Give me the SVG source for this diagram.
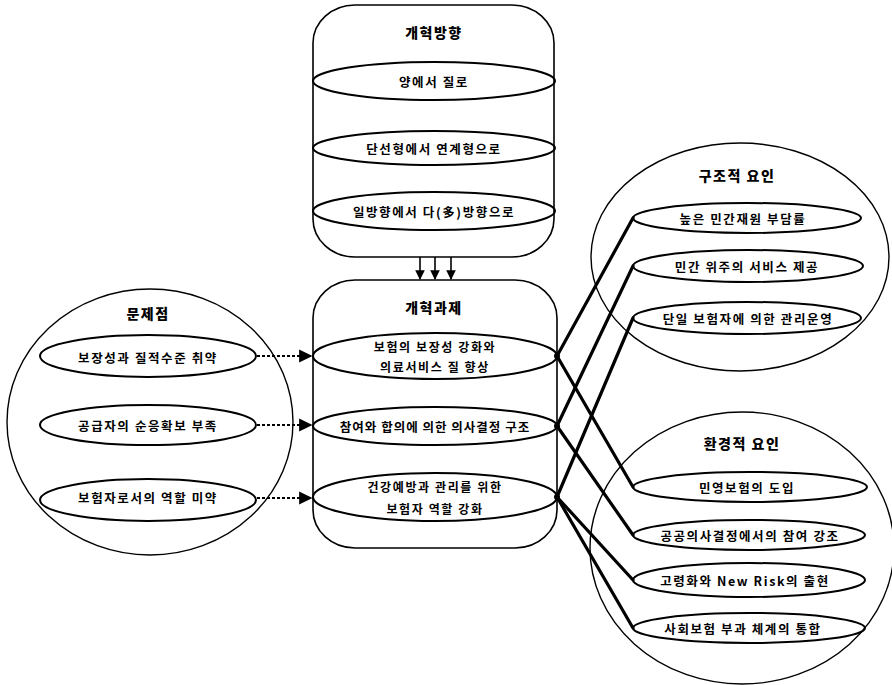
<svg xmlns="http://www.w3.org/2000/svg" width="892" height="685" viewBox="0 0 892 685">
  <style>
    .frame { fill: none; stroke: #000; stroke-width: 1.6; }
    .oval { fill: none; stroke: #000; stroke-width: 2; }
    .group { fill: none; stroke: #000; stroke-width: 1.4; }
    text { font-family: "Noto Sans CJK KR", "Noto Sans", sans-serif; font-weight: 700; fill: #000; text-anchor: middle; dominant-baseline: central; }
    .title { font-size: 14px; letter-spacing: 1.5px; font-weight: 900; }
    .item { font-size: 12.5px; letter-spacing: 1.6px; }
    .pair { font-size: 12px; letter-spacing: 1.6px; }
    .link { stroke: #000; stroke-width: 3.2; fill: none; stroke-linecap: round; }
    .feed { stroke: #000; stroke-width: 2.2; fill: none; stroke-dasharray: 3 2; }
    .down { stroke: #000; stroke-width: 1.6; fill: none; }
  </style>
  <defs>
    <marker id="head" viewBox="0 0 10 10" refX="9" refY="5" markerWidth="6" markerHeight="6" orient="auto">
      <path d="M0,0 L10,5 L0,10 z" fill="#000"/>
    </marker>
  </defs>
  <rect width="892" height="685" fill="#fff"/>

  <!-- reform direction -->
  <g id="direction">
    <rect class="frame" x="313" y="5" width="241" height="252" rx="42" ry="38"/>
    <text class="title" x="434" y="32">개혁방향</text>
    <ellipse class="oval" cx="434" cy="81" rx="121" ry="19"/>
    <text class="item" x="434" y="81">양에서 질로</text>
    <ellipse class="oval" cx="434" cy="148" rx="121" ry="17"/>
    <text class="item" x="434" y="148">단선형에서 연계형으로</text>
    <ellipse class="oval" cx="434" cy="211" rx="121" ry="19"/>
    <text class="item" x="434" y="211">일방향에서 다(多)방향으로</text>
  </g>

  <!-- reform tasks -->
  <g id="tasks">
    <rect class="frame" x="313" y="280" width="244" height="268" rx="42" ry="38"/>
    <text class="title" x="434" y="307">개혁과제</text>
    <ellipse class="oval" cx="435" cy="356" rx="122" ry="23"/>
    <text class="pair" x="435" y="346">보험의 보장성 강화와</text>
    <text class="pair" x="435" y="366">의료서비스 질 향상</text>
    <ellipse class="oval" cx="435" cy="426" rx="122" ry="19"/>
    <text class="item" x="435" y="426" style="letter-spacing:1px">참여와 합의에 의한 의사결정 구조</text>
    <ellipse class="oval" cx="435" cy="497" rx="122" ry="24"/>
    <text class="pair" x="435" y="486">건강예방과 관리를 위한</text>
    <text class="pair" x="435" y="508">보험자 역할 강화</text>
  </g>

  <!-- problems -->
  <g id="problems">
    <ellipse class="group" cx="150" cy="422" rx="143" ry="133"/>
    <text class="title" x="148" y="313">문제점</text>
    <ellipse class="oval" cx="148" cy="356" rx="108" ry="21"/>
    <text class="item" x="148" y="357">보장성과 질적수준 취약</text>
    <ellipse class="oval" cx="148" cy="425" rx="108" ry="20"/>
    <text class="item" x="148" y="425">공급자의 순응확보 부족</text>
    <ellipse class="oval" cx="148" cy="500" rx="108" ry="21"/>
    <text class="item" x="148" y="497">보험자로서의 역할 미약</text>
  </g>

  <!-- structural factors -->
  <g id="structural">
    <ellipse class="group" cx="740" cy="257" rx="149" ry="114"/>
    <text class="title" x="737" y="175">구조적 요인</text>
    <ellipse class="oval" cx="747" cy="218" rx="114" ry="15"/>
    <text class="item" x="743" y="218">높은 민간재원 부담률</text>
    <ellipse class="oval" cx="748" cy="266" rx="115" ry="16"/>
    <text class="item" x="747" y="266">민간 위주의 서비스 제공</text>
    <ellipse class="oval" cx="747" cy="318" rx="114" ry="16"/>
    <text class="item" x="748" y="318">단일 보험자에 의한 관리운영</text>
  </g>

  <!-- environmental factors -->
  <g id="environmental">
    <ellipse class="group" cx="742" cy="548" rx="152" ry="136"/>
    <text class="title" x="742" y="443">환경적 요인</text>
    <ellipse class="oval" cx="750" cy="487" rx="117" ry="15"/>
    <text class="item" x="747" y="487">민영보험의 도입</text>
    <ellipse class="oval" cx="749" cy="535" rx="116" ry="15"/>
    <text class="item" x="750" y="535">공공의사결정에서의 참여 강조</text>
    <ellipse class="oval" cx="749" cy="580" rx="116" ry="17"/>
    <text class="item" x="745" y="580">고령화와 New Risk의 출현</text>
    <ellipse class="oval" cx="749" cy="628" rx="116" ry="15"/>
    <text class="item" x="743" y="628">사회보험 부과 체계의 통합</text>
  </g>

  <!-- connectors -->
  <g id="connectors">
    <line class="down" x1="420" y1="257" x2="420" y2="279" marker-end="url(#head)"/>
    <line class="down" x1="435" y1="257" x2="435" y2="279" marker-end="url(#head)"/>
    <line class="down" x1="451" y1="257" x2="451" y2="279" marker-end="url(#head)"/>

    <line class="feed" x1="257" y1="356" x2="311" y2="356" marker-end="url(#head)"/>
    <line class="feed" x1="257" y1="425" x2="311" y2="425" marker-end="url(#head)"/>
    <line class="feed" x1="257" y1="498" x2="311" y2="498" marker-end="url(#head)"/>

    <line class="link" x1="557" y1="356" x2="633" y2="218"/>
    <line class="link" x1="557" y1="356" x2="633" y2="487"/>
    <line class="link" x1="557" y1="426" x2="633" y2="266"/>
    <line class="link" x1="557" y1="426" x2="633" y2="535"/>
    <line class="link" x1="557" y1="497" x2="633" y2="318"/>
    <line class="link" x1="557" y1="497" x2="633" y2="580"/>
    <line class="link" x1="557" y1="497" x2="633" y2="628"/>
    <circle cx="557" cy="356" r="3" fill="#000"/>
    <circle cx="557" cy="426" r="3" fill="#000"/>
    <circle cx="557" cy="497" r="3" fill="#000"/>
  </g>
</svg>
